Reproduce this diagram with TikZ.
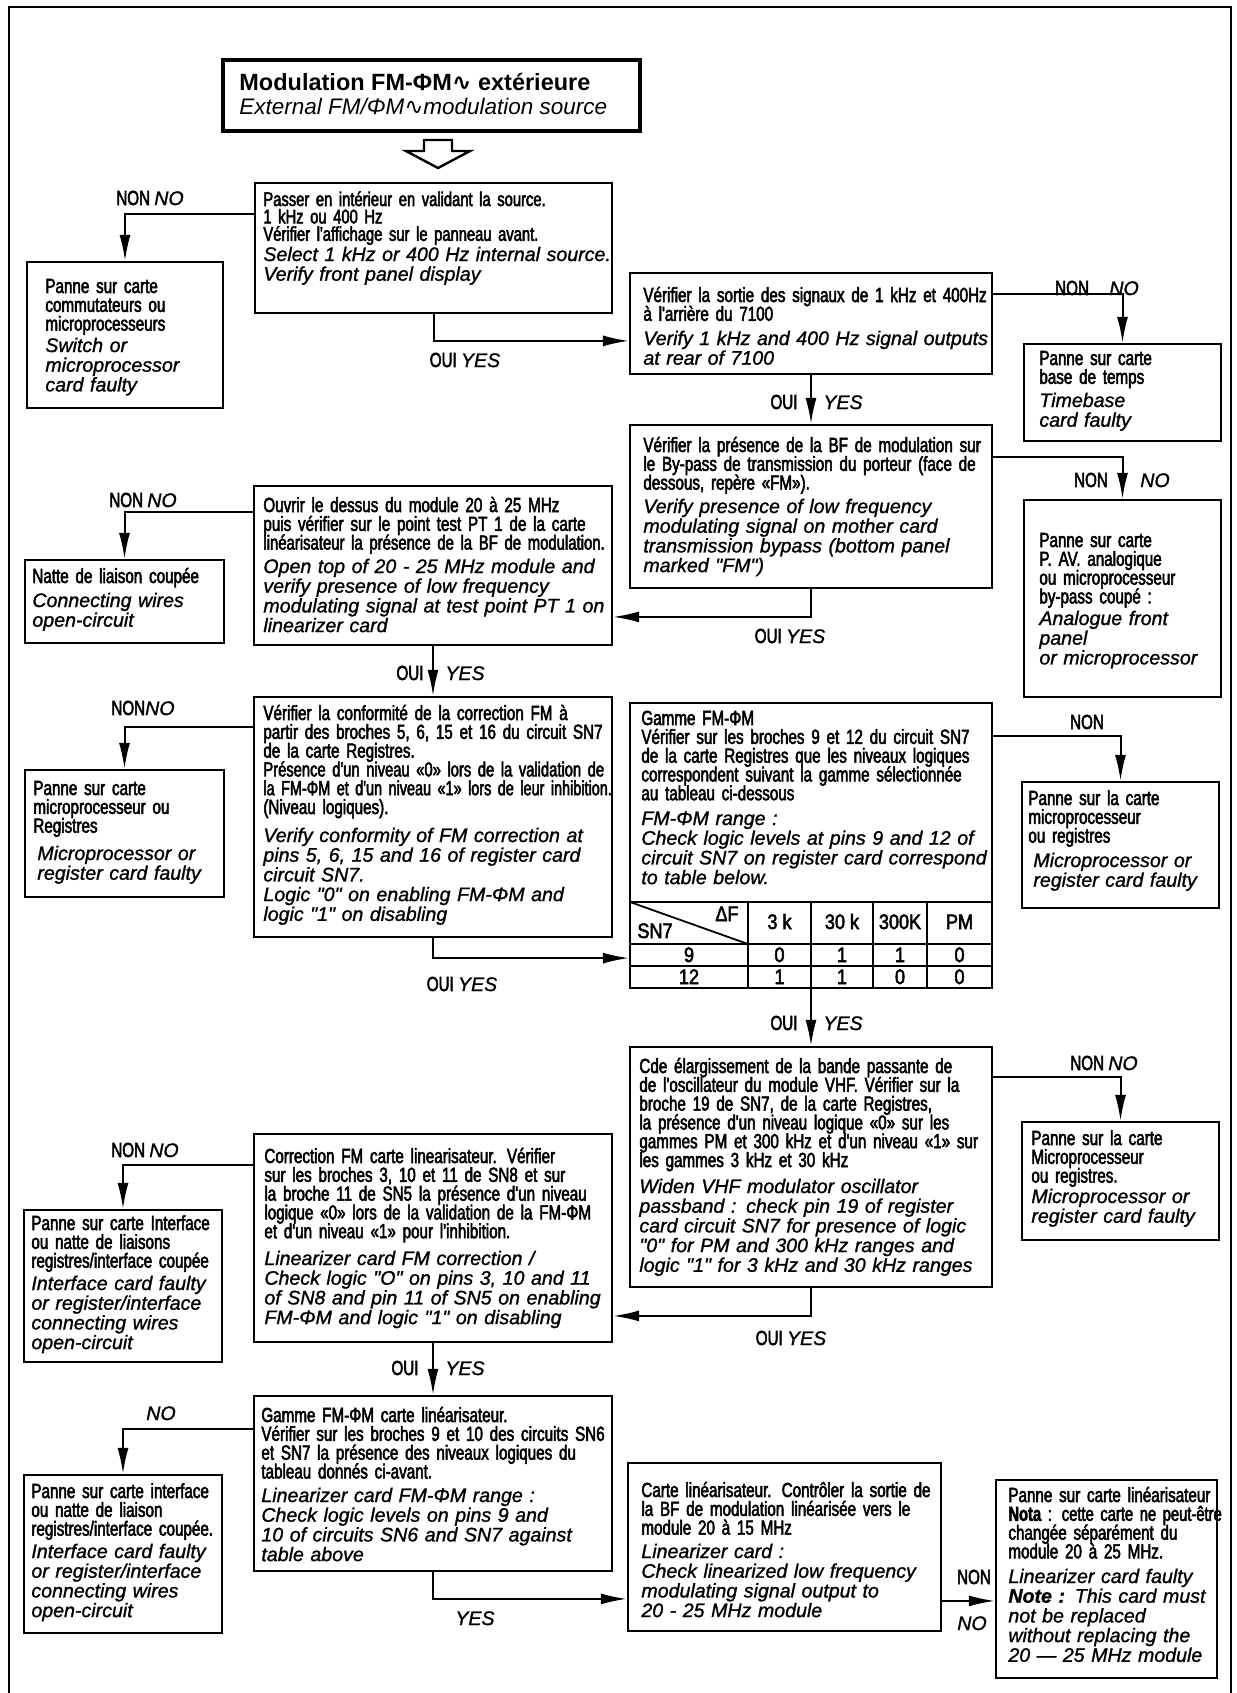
\documentclass[tikz,border=0pt]{standalone}
\usepackage{fontspec}
\usepackage{graphicx}
\setmainfont{Liberation Sans}
\newfontfamily\frfam[FakeStretch=0.745, FakeBold=2.5]{Liberation Sans}
\newfontfamily\enfam[FakeBold=1.2]{Liberation Sans}
\newfontfamily\titlefam{Liberation Sans}
\newfontfamily\cellfam[FakeStretch=0.86, FakeBold=2.5]{Liberation Sans}
\newfontfamily\symfam{DejaVu Sans}
% French lines: fixed line pitch even when the glyphs are tall
\newcommand\frfont{\frfam\fontsize{10.2}{9.4}\selectfont\lineskiplimit=-100pt\relax}
\newcommand\enfont{\enfam\itshape\fontsize{9.8}{9.85}\selectfont}
\newcommand\sinewave{{\symfam\char"223F}}
\newcommand\squeeze[2]{\scalebox{#1}[1]{#2}}
\usetikzlibrary{calc,fit,arrows.meta}

\tikzset{
  box/.style={draw, line width=1.1pt, inner sep=0pt},
  frtext/.style={anchor=base west, inner sep=0pt, text width=230pt, align=left, font=\frfont},
  entext/.style={anchor=base west, inner sep=0pt, text width=230pt, align=left, font=\enfont},
  flow/.style={line width=1pt, -{Latex[length=13pt,width=5.5pt]}},
  lblfr/.style={anchor=base, inner sep=0pt, font=\frfont},
  lblen/.style={anchor=base, inner sep=0pt, font=\enfont},
  cell/.style={anchor=base, inner sep=0pt, font=\cellfam\fontsize{10.5}{11}\selectfont},
}

\begin{document}
\begin{tikzpicture}[x=0.5pt, y=-0.5pt]
\useasboundingbox (0,0) rectangle (1237,1693);

% page frame (open at the bottom)
\draw[line width=1.3pt] (9,1693) -- (9,7) -- (1231,7) -- (1231,1693);

% ---- title ----
\node[box, line width=1.8pt, fit={(223,60) (640,131)}] (T) {};
\node[anchor=base west, inner sep=0pt, font=\titlefam\bfseries\fontsize{11.75}{12}\selectfont] (T-fr) at (239,90) {Modulation FM-ΦM\sinewave{} extérieure};
\node[anchor=base west, inner sep=0pt, font=\titlefam\itshape\fontsize{11.25}{12}\selectfont] (T-en) at (239,114) {External FM/ΦM\sinewave{}modulation source};
\draw[line width=1.2pt, fill=white] (424,140) -- (452,140) -- (452,151) -- (470,151) -- (438,168) -- (406,151) -- (424,151) -- cycle;

% ---- boxes ----
\node[box, fit={(255,183) (612,313)}] (A) {};
\node[box, fit={(630,273) (992,374)}] (B) {};
\node[box, fit={(630,425) (992,588)}] (C) {};
\node[box, fit={(254,486) (612,645)}] (D) {};
\node[box, fit={(254,697) (612,937)}] (E) {};
\node[box, fit={(630,703) (992,988)}] (F) {};
\node[box, fit={(630,1047) (992,1287)}] (G) {};
\node[box, fit={(254,1134) (612,1342)}] (H) {};
\node[box, fit={(254,1396) (612,1571)}] (I) {};
\node[box, fit={(628,1463) (941,1631)}] (J) {};
\node[box, fit={(996,1480) (1217,1678)}] (K) {};
\node[box, fit={(27,262) (223,408)}] (P1) {};
\node[box, fit={(1024,344) (1221,441)}] (P2) {};
\node[box, fit={(1024,500) (1221,697)}] (P3) {};
\node[box, fit={(25,560) (224,643)}] (P4) {};
\node[box, fit={(25,770) (224,897)}] (P5) {};
\node[box, fit={(1022,782) (1219,908)}] (P6) {};
\node[box, fit={(1022,1122) (1219,1240)}] (P7) {};
\node[box, fit={(24,1210) (222,1362)}] (P8) {};
\node[box, fit={(24,1475) (222,1633)}] (P9) {};

% ---- box texts ----
\node[frtext, font=\frfont\fontsize{9.9}{8.7}\selectfont] (A-fr) at (263,206) {Passer en intérieur en validant la source.\\1 kHz ou 400 Hz\\Vérifier l'affichage sur le panneau avant.};
\node[entext] (A-en) at (263,261) {Select 1 kHz or 400 Hz internal source.\\Verify front panel display};

\node[frtext] (B-fr) at (643,302) {Vérifier la sortie des signaux de 1 kHz et 400Hz\\à l'arrière du 7100};
\node[entext] (B-en) at (643,345) {Verify 1 kHz and 400 Hz signal outputs\\at rear of 7100};

\node[frtext] (C-fr) at (643,452) {Vérifier la présence de la BF de modulation sur\\le By-pass de transmission du porteur (face de\\dessous, repère «FM»).};
\node[entext] (C-en) at (643,513) {Verify presence of low frequency\\modulating signal on mother card\\transmission bypass (bottom panel\\marked "FM")};

\node[frtext] (D-fr) at (263,512) {Ouvrir le dessus du module 20 à 25 MHz\\puis vérifier sur le point test PT 1 de la carte\\\squeeze{0.98}{linéarisateur la présence de la BF de modulation.}};
\node[entext] (D-en) at (263,573) {Open top of 20 - 25 MHz module and\\verify presence of low frequency\\modulating signal at test point PT 1 on\\linearizer card};

\node[frtext] (E-fr) at (263,720) {Vérifier la conformité de la correction FM à\\partir des broches 5, 6, 15 et 16 du circuit SN7\\de la carte Registres.\\\squeeze{0.97}{Présence d'un niveau «0» lors de la validation de}\\\squeeze{0.95}{la FM-ΦM et d'un niveau «1» lors de leur inhibition.}\\(Niveau logiques).};
\node[entext] (E-en) at (263,842) {Verify conformity of FM correction at\\pins 5, 6, 15 and 16 of register card\\circuit SN7.\\Logic "0" on enabling FM-ΦM and\\logic "1" on disabling};

\node[frtext] (F-fr) at (641,725) {Gamme FM-ΦM\\Vérifier sur les broches 9 et 12 du circuit SN7\\de la carte Registres que les niveaux logiques\\correspondent suivant la gamme sélectionnée\\au tableau ci-dessous};
\node[entext] (F-en) at (641,825) {FM-ΦM range :\\Check logic levels at pins 9 and 12 of\\circuit SN7 on register card correspond\\to table below.};

\node[frtext] (G-fr) at (639,1073) {Cde élargissement de la bande passante de\\de l'oscillateur du module VHF. Vérifier sur la\\broche 19 de SN7, de la carte Registres,\\la présence d'un niveau logique «0» sur les\\gammes PM et 300 kHz et d'un niveau «1» sur\\les gammes 3 kHz et 30 kHz};
\node[entext] (G-en) at (639,1193) {Widen VHF modulator oscillator\\passband : check pin 19 of register\\card circuit SN7 for presence of logic\\"0" for PM and 300 kHz ranges and\\logic "1" for 3 kHz and 30 kHz ranges};

\node[frtext] (H-fr) at (264,1163) {Correction FM carte linearisateur. Vérifier\\sur les broches 3, 10 et 11 de SN8 et sur\\la broche 11 de SN5 la présence d'un niveau\\logique «0» lors de la validation de la FM-ΦM\\et d'un niveau «1» pour l'inhibition.};
\node[entext] (H-en) at (264,1265) {Linearizer card FM correction /\\Check logic "O" on pins 3, 10 and 11\\of SN8 and pin 11 of SN5 on enabling\\FM-ΦM and logic "1" on disabling};

\node[frtext] (I-fr) at (261,1422) {Gamme FM-ΦM carte linéarisateur.\\Vérifier sur les broches 9 et 10 des circuits SN6\\et SN7 la présence des niveaux logiques du\\tableau donnés ci-avant.};
\node[entext] (I-en) at (261,1502) {Linearizer card FM-ΦM range :\\Check logic levels on pins 9 and\\10 of circuits SN6 and SN7 against\\table above};

\node[frtext] (J-fr) at (641,1497) {Carte linéarisateur. Contrôler la sortie de\\la BF de modulation linéarisée vers le\\module 20 à 15 MHz};
\node[entext] (J-en) at (641,1558) {Linearizer card :\\Check linearized low frequency\\modulating signal output to\\20 - 25 MHz module};

\node[frtext] (K-fr) at (1008,1502) {Panne sur carte linéarisateur\\\squeeze{0.97}{\textbf{Nota} : cette carte ne peut-être}\\changée séparément du\\module 20 à 25 MHz.};
\node[entext] (K-en) at (1008,1583) {Linearizer card faulty\\\textbf{Note :} This card must\\not be replaced\\without replacing the\\20 — 25 MHz module};

\node[frtext] (P1-fr) at (45,293) {Panne sur carte\\commutateurs ou\\microprocesseurs};
\node[entext] (P1-en) at (45,352) {Switch or\\microprocessor\\card faulty};

\node[frtext] (P2-fr) at (1039,365) {Panne sur carte\\base de temps};
\node[entext] (P2-en) at (1039,407) {Timebase\\card faulty};

\node[frtext] (P3-fr) at (1039,547) {Panne sur carte\\P. AV. analogique\\ou microprocesseur\\by-pass coupé :};
\node[entext] (P3-en) at (1039,625) {Analogue front\\panel\\or microprocessor};

\node[frtext] (P4-fr) at (32,583) {Natte de liaison coupée};
\node[entext] (P4-en) at (32,607) {Connecting wires\\open-circuit};

\node[frtext] (P5-fr) at (33,795) {Panne sur carte\\microprocesseur ou\\Registres};
\node[entext] (P5-en) at (37,860) {Microprocessor or\\register card faulty};

\node[frtext] (P6-fr) at (1028,805) {Panne sur la carte\\microprocesseur\\ou registres};
\node[entext] (P6-en) at (1033,867) {Microprocessor or\\register card faulty};

\node[frtext] (P7-fr) at (1031,1145) {Panne sur la carte\\Microprocesseur\\ou registres.};
\node[entext] (P7-en) at (1031,1203) {Microprocessor or\\register card faulty};

\node[frtext] (P8-fr) at (31,1230) {Panne sur carte Interface\\ou natte de liaisons\\registres/interface coupée};
\node[entext] (P8-en) at (31,1290) {Interface card faulty\\or register/interface\\connecting wires\\open-circuit};

\node[frtext] (P9-fr) at (31,1498) {Panne sur carte interface\\ou natte de liaison\\registres/interface coupée.};
\node[entext] (P9-en) at (31,1558) {Interface card faulty\\or register/interface\\connecting wires\\open-circuit};

% ---- logic table inside F ----
\draw[line width=1.1pt] (630,902) -- (992,902) (630,944) -- (992,944) (630,966) -- (992,966);
\draw[line width=1.1pt] (748,902) -- (748,988) (811,902) -- (811,988) (873,902) -- (873,988) (927,902) -- (927,988);
\draw[line width=0.9pt] (630,902) -- (748,944);
\node[cell] (t-df) at (727,921) {ΔF};
\node[cell] (t-sn) at (655,938) {SN7};
\node[cell] (t-h1) at (779.5,929) {3 k};
\node[cell] (t-h2) at (842,929) {30 k};
\node[cell] (t-h3) at (900,929) {300K};
\node[cell] (t-h4) at (959.5,929) {PM};
\node[cell] (t-a0) at (689,962) {9};
\node[cell] (t-a1) at (779.5,962) {0};
\node[cell] (t-a2) at (842,962) {1};
\node[cell] (t-a3) at (900,962) {1};
\node[cell] (t-a4) at (959.5,962) {0};
\node[cell] (t-b0) at (689,984) {12};
\node[cell] (t-b1) at (779.5,984) {1};
\node[cell] (t-b2) at (842,984) {1};
\node[cell] (t-b3) at (900,984) {0};
\node[cell] (t-b4) at (959.5,984) {0};

% ---- connectors ----
\draw[flow] ($(A.north west)+(0,32)$) -| (P1.north);
\draw[flow] (A.south) |- ($(B.north west)+(0,69)$);
\draw[flow] ($(B.north east)+(0,22)$) -| (P2.north);
\draw[flow] (B.south) -- (C.north);
\draw[flow] ($(C.north east)+(0,33)$) -| (P3.north);
\draw[flow] (C.south) |- ($(D.north east)+(0,132)$);
\draw[flow] ($(D.north west)+(0,27)$) -| (P4.north);
\draw[flow] (D.south) -- (E.north);
\draw[flow] ($(E.north west)+(0,31)$) -| (P5.north);
\draw[flow] (E.south) |- ($(F.south west)+(0,-31)$);
\draw[flow] ($(F.north east)+(0,34)$) -| (P6.north);
\draw[flow] (F.south) -- (G.north);
\draw[flow] ($(G.north east)+(0,31)$) -| (P7.north);
\draw[flow] (G.south) |- ($(H.north east)+(0,183)$);
\draw[flow] ($(H.north west)+(0,32)$) -| (P8.north);
\draw[flow] (H.south) -- (I.north);
\draw[flow] ($(I.north west)+(0,34)$) -| (P9.north);
\draw[flow] (I.south) |- ($(J.north west)+(0,137)$);
\draw[flow] ($(J.north east)+(0,139)$) -- ($(K.north west)+(0,122)$);

% ---- connector labels ----
\node[lblfr] (l1) at (150,205) {NON {\enfont NO}};
\node[lblfr] (l2) at (465,367) {OUI {\enfont YES}};
\node[lblfr] (l3) at (1097,295) {NON\quad{\enfont NO}};
\node[lblfr] (l4a) at (784,409) {OUI};
\node[lblen] (l4b) at (843,409) {YES};
\node[lblfr] (l5a) at (1091,487) {NON};
\node[lblen] (l5b) at (1155,487) {NO};
\node[lblfr] (l6) at (790,643) {OUI {\enfont YES}};
\node[lblfr] (l7) at (143,507) {NON {\enfont NO}};
\node[lblfr] (l8a) at (410,680) {OUI};
\node[lblen] (l8b) at (465,680) {YES};
\node[lblfr] (l9) at (143,715) {NON{\enfont NO}};
\node[lblfr] (l10) at (1087,729) {NON};
\node[lblfr] (l11) at (462,991) {OUI {\enfont YES}};
\node[lblfr] (l12a) at (784,1030) {OUI};
\node[lblen] (l12b) at (843,1030) {YES};
\node[lblfr] (l13) at (1104,1070) {NON {\enfont NO}};
\node[lblfr] (l14) at (791,1345) {OUI {\enfont YES}};
\node[lblfr] (l15) at (145,1157) {NON {\enfont NO}};
\node[lblfr] (l16a) at (405,1375) {OUI};
\node[lblen] (l16b) at (465,1375) {YES};
\node[lblen] (l17) at (161,1420) {NO};
\node[lblen] (l18) at (475,1625) {YES};
\node[lblfr] (l19a) at (974,1584) {NON};
\node[lblen] (l19b) at (972,1630) {NO};
\end{tikzpicture}
\end{document}
